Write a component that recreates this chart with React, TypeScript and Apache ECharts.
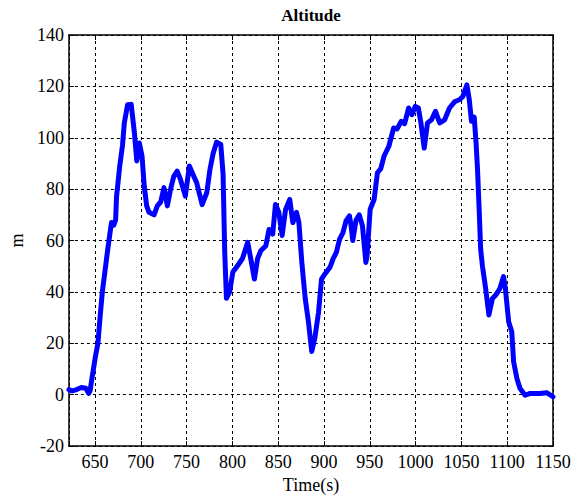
import React, { useEffect, useRef } from "react";
import * as echarts from "echarts";

// Flight altitude trace, time in seconds and altitude in metres
const timeSeconds: number[] = [
  621.5, 625, 630, 635, 640, 643, 644.6, 646.5, 648.3, 650.5, 653.2, 655.5, 658, 660.5, 663.7, 666,
  668, 670.5, 672.5, 673.5, 677, 680, 682, 685.6, 689.5, 693, 695.6, 698.4, 701.3, 703.8, 706.4,
  709, 714.5, 718, 721.7, 725.3, 729, 732.5, 736, 739.7, 743.3, 748.6, 753, 756.6, 761, 767, 772,
  775.5, 779, 782.7, 787.3, 789.8, 791.6, 793.5, 797, 800.5, 806, 811, 816.7, 820, 824, 827.5, 831,
  836.5, 840, 844, 847, 850.7, 854.3, 858, 862.6, 866, 870, 872.6, 875.8, 879.5, 883, 886.6, 890,
  894, 897.3, 901, 906.5, 910, 913.5, 917, 920.6, 924, 927.8, 929.6, 931.4, 935, 938.5, 942, 945.7,
  947, 950.4, 954.7, 958.3, 962, 965.5, 970.8, 976, 979.7, 984.4, 988, 992.4, 996, 999.6, 1003,
  1005.8, 1009.4, 1013, 1017.4, 1021.7, 1026.3, 1031.7, 1037, 1042.5, 1047.8, 1051.5, 1056, 1058.6,
  1061, 1064, 1066, 1067.6, 1069.4, 1071, 1073, 1076.6, 1080, 1083.8, 1087.3, 1092, 1096, 1098,
  1101.6, 1105, 1107, 1110.6, 1114, 1119.6, 1125, 1135.7, 1143, 1150,
];

const altitudeMeters: number[] = [
  2, 1.5, 2, 2.8, 2.5, 0.5, 1.5, 6, 10, 15, 20, 30, 40, 47, 56, 62,
  67, 66, 68, 77, 89, 97, 105.8, 112.9, 113, 102, 91, 98, 93, 81, 73.5,
  71, 70, 73.5, 75, 80.6, 73.5, 80, 85, 87, 83.8, 77.3, 89, 86, 82.5, 74, 78.6,
  87.7, 94, 98.3, 97.4, 86, 55.7, 37.5, 40, 47.8, 50.4, 53, 59.3, 53, 45, 53, 56,
  58, 64.3, 62.5, 74, 71, 62, 72, 76, 67, 71, 67, 51.5, 37.4, 28.4, 16.8, 22,
  32, 45, 47, 49.6, 53, 55.4, 60.5, 63, 67.6, 69.6, 65.7, 60, 68, 70, 65.7, 51.5,
  54, 72.2, 76, 86.4, 88, 92.8, 96.7, 103.8, 103.4, 106.4, 105.5, 111.6, 109, 112.2, 111.6,
  105.8, 96, 105.8, 107, 110.3, 105.8, 107, 111.6, 114, 114.8, 116, 120.6, 114.8,
  106.4, 108, 98, 87.7, 72, 56.7, 50, 41, 31, 37.4, 38.7, 41.3, 46, 41.3,
  28.4, 24.5, 12.8, 6.3, 2.4, -0.2, 0.5, 0.5, 0.8, -0.8,
];

const X_MIN = 621.5;
const X_MAX = 1150;
const Y_MIN = -20;
const Y_MAX = 140;
const Y_STEP = 20;

const FONT = "'Liberation Serif', 'DejaVu Serif', serif";

export default function App() {
  const ref = useRef<HTMLDivElement>(null);

  useEffect(() => {
    if (!ref.current) return;
    const chart = echarts.init(ref.current, null, { renderer: "svg" });

    const tickLine = { color: "#000", width: 1 };
    const axisLine = { show: true, onZero: false, lineStyle: { color: "#000", width: 1.5 } };
    const grid = { color: "#000", type: [3, 3] as number[], width: 1 };

    chart.setOption({
      animation: false,
      backgroundColor: "#fff",
      title: {
        text: "Altitude",
        left: 306,
        textAlign: "center",
        top: 2,
        textStyle: { fontFamily: FONT, fontWeight: "bold", fontSize: 17, color: "#000" },
      },
      grid: { left: 62, right: 29, top: 35, bottom: 51, containLabel: false },
      xAxis: [
        {
          type: "value",
          min: X_MIN,
          max: X_MAX,
          splitNumber: 10,
          axisLine,
          axisTick: { show: true, inside: true, length: 5, lineStyle: tickLine },
          axisLabel: {
            color: "#000",
            fontFamily: FONT,
            fontSize: 18,
            margin: 7,
            formatter: (v: number) => (v % 50 === 0 ? String(v) : ""),
          },
          splitLine: { show: true, lineStyle: grid },
          name: "Time(s)",
          nameLocation: "middle",
          nameGap: 27,
          nameTextStyle: { color: "#000", fontFamily: FONT, fontSize: 18 },
        },
        {
          type: "value",
          position: "top",
          min: X_MIN,
          max: X_MAX,
          splitNumber: 10,
          axisLine,
          axisTick: { show: true, inside: true, length: 5, lineStyle: tickLine },
          axisLabel: { show: false },
          splitLine: { show: false },
        },
      ],
      yAxis: [
        {
          type: "value",
          min: Y_MIN,
          max: Y_MAX,
          interval: Y_STEP,
          axisLine,
          axisTick: { show: true, inside: true, length: 5, lineStyle: tickLine },
          axisLabel: { color: "#000", fontFamily: FONT, fontSize: 18, margin: 5 },
          splitLine: { show: true, lineStyle: grid },
          name: "m",
          nameLocation: "middle",
          nameGap: 36,
          nameTextStyle: { color: "#000", fontFamily: FONT, fontSize: 18 },
        },
        {
          type: "value",
          position: "right",
          min: Y_MIN,
          max: Y_MAX,
          interval: Y_STEP,
          axisLine,
          axisTick: { show: true, inside: true, length: 5, lineStyle: tickLine },
          axisLabel: { show: false },
          splitLine: { show: false },
        },
      ],
      series: [
        {
          type: "line",
          xAxisIndex: 0,
          yAxisIndex: 0,
          data: timeSeconds.map((t, i) => [t, altitudeMeters[i]]),
          showSymbol: false,
          symbol: "none",
          smooth: false,
          lineStyle: { color: "#0000ff", width: 5, cap: "round", join: "round" },
          z: 3,
        },
      ],
    });

    return () => chart.dispose();
  }, []);

  return (
    <div
      ref={ref}
      style={{ position: "fixed", left: 0, top: 0, width: 582, height: 499, background: "#fff" }}
    />
  );
}
